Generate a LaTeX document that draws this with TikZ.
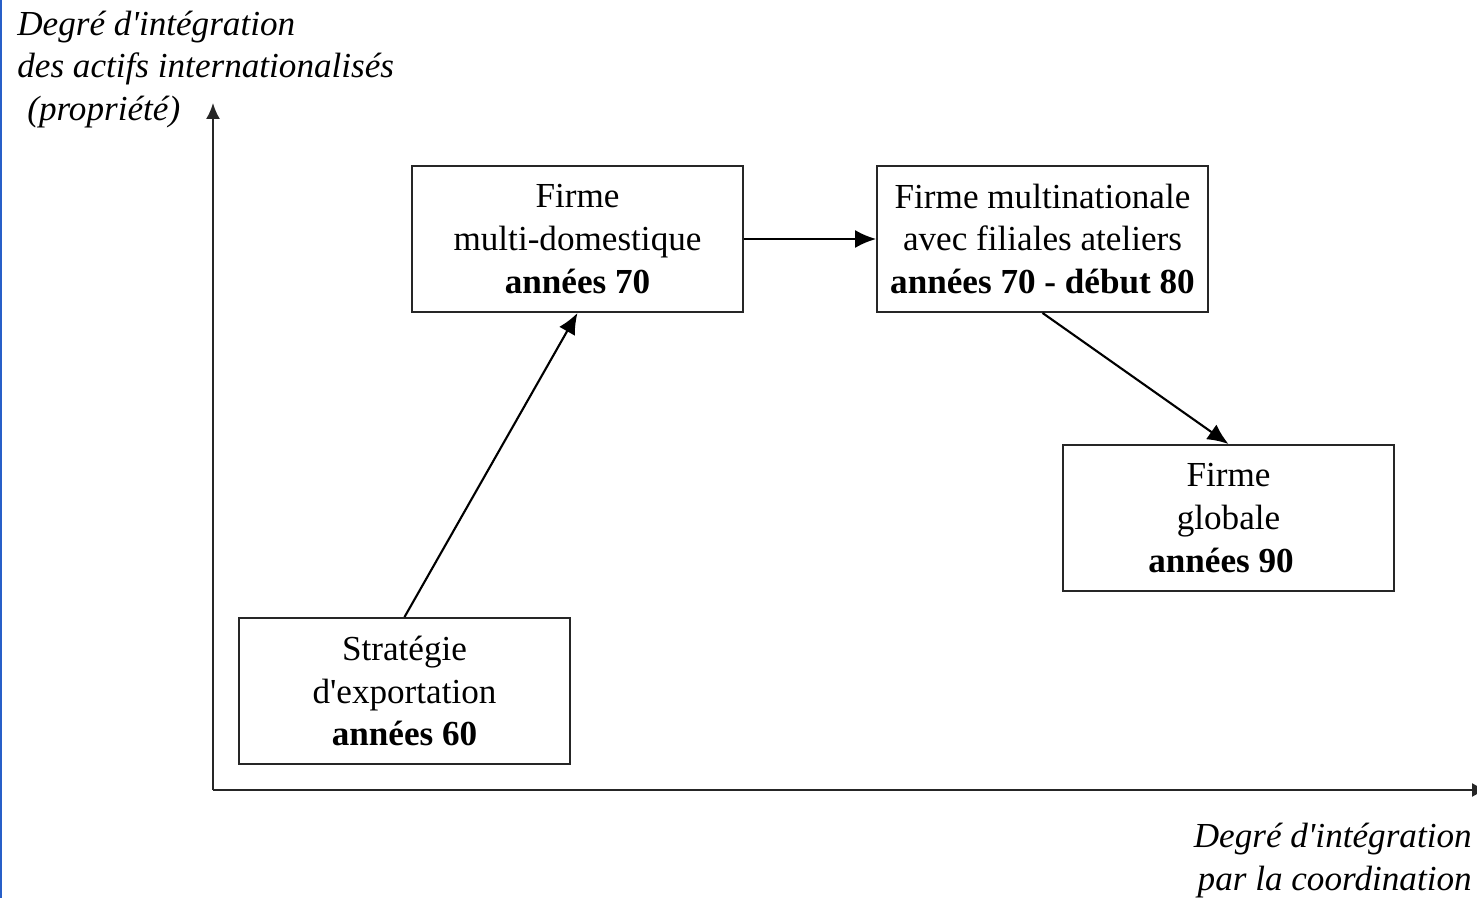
\documentclass[tikz,border=0pt]{standalone}
\usepackage{fontspec}
\setmainfont{Liberation Serif}
\usetikzlibrary{arrows.meta}
\definecolor{edgeblue}{RGB}{40,95,200}
\newcommand{\apo}{\textquotesingle}
\tikzset{
  px/.style={x=0.02cm,y=-0.02cm},
  stagebox/.style={draw=black!85,line width=1.1pt,minimum width=6.62cm,minimum height=2.92cm,
    align=center,inner sep=0pt,font=\fontsize{20}{24.4}\selectfont},
  flow/.style={line width=1.2pt,-{Latex[length=0.42cm,width=0.36cm]}},
  axis/.style={line width=1.1pt,black!85,-{Latex[length=0.32cm,width=0.28cm]}},
  axlabel/.style={inner sep=0pt,font=\fontsize{20}{24.4}\selectfont\itshape}
}
\begin{document}
\begin{tikzpicture}[px]
\useasboundingbox (0,0) rectangle (1477,898);
\fill[edgeblue] (0,0) rectangle (2.5,898);
% axes
\coordinate (O) at (213,790);
\coordinate (Ytip) at (213,103);
\coordinate (Xtip) at (1488,790);
\draw[axis] (O) -- (Ytip);
\draw[axis] (O) -- (Xtip);
% axis labels
\node[axlabel,anchor=west,align=left] (ylab) at (17,69.5)
  {Degré d\apo intégration\\des actifs internationalisés\\\hspace*{0.2cm}(propriété)};
\node[axlabel,anchor=east,align=right] (xlab) at (1472,860.5)
  {Degré d\apo intégration\\par la coordination};
% boxes
\node[stagebox] (A) at (404.5,691) {Stratégie\\d\apo exportation\\\textbf{années 60}};
\node[stagebox] (B) at (577.5,239) {Firme\\multi-domestique\\\textbf{années 70}};
\node[stagebox] (C) at (1042.5,239) {Firme multinationale\\avec filiales ateliers\\\textbf{années 70 - début 80}};
\node[stagebox] (D) at (1228.5,518) {Firme\\globale\\\textbf{années 90}\hspace*{0.3cm}};
% connectors
\draw[flow] (A.north) -- (B.south);
\draw[flow] (B.east) -- (C.west);
\draw[flow] (C.south) -- (D.north);
\end{tikzpicture}
\end{document}
